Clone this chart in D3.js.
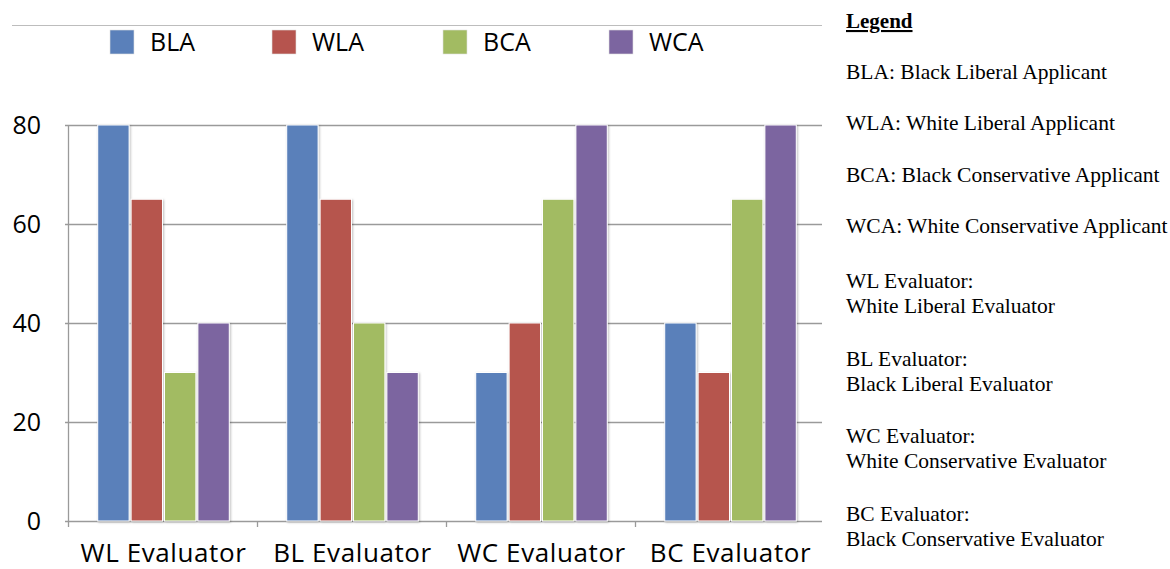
<!DOCTYPE html>
<html>
<head>
<meta charset="utf-8">
<script src="https://cdn.jsdelivr.net/npm/d3@7"></script>
<style>
  html, body { margin: 0; padding: 0; background: #fff; }
  svg { display: block; }
</style>
</head>
<body>
<svg id="chart" width="1170" height="569"></svg>
<script>
// Evaluator groups along the x axis
const evaluators = ["WL Evaluator", "BL Evaluator", "WC Evaluator", "BC Evaluator"];
// Applicant series
const series = ["BLA", "WLA", "BCA", "WCA"];
const seriesColors = ["#5a80ba", "#b6544e", "#a2bb62", "#7c65a0"];
// Ratings per applicant series, one value per evaluator group
const BLA = [80, 80, 30, 40];
const WLA = [65, 65, 40, 30];
const BCA = [30, 40, 65, 65];
const WCA = [40, 30, 80, 80];
const yTicks = [0, 20, 40, 60, 80];

// Explanatory key on the right
const keyLines = [
  ["BLA: Black Liberal Applicant"],
  ["WLA: White Liberal Applicant"],
  ["BCA: Black Conservative Applicant"],
  ["WCA: White Conservative Applicant"],
  ["WL Evaluator:", "White Liberal Evaluator"],
  ["BL Evaluator:", "Black Liberal Evaluator"],
  ["WC Evaluator:", "White Conservative Evaluator"],
  ["BC Evaluator:", "Black Conservative Evaluator"]
];

const values = { BLA, WLA, BCA, WCA };
const rows = evaluators.map((e, i) => ({ evaluator: e, vals: series.map(s => ({ key: s, value: values[s][i] })) }));

const svg = d3.select("#chart");
const sansFont = "'Open Sans', 'DejaVu Sans', sans-serif";
const serifFont = "'Liberation Serif', 'DejaVu Serif', serif";

const plot = { left: 69, right: 825, top: 125, bottom: 521 };

const x0 = d3.scaleBand().domain(evaluators).range([plot.left, plot.right]).paddingInner(0).paddingOuter(0);
const x1 = d3.scaleBand().domain(series).range([0, x0.bandwidth()]).paddingInner(0.06).paddingOuter(0.86);
const y = d3.scaleLinear().domain([0, 80]).range([plot.bottom, plot.top]);
const color = d3.scaleOrdinal().domain(series).range(seriesColors);

// Shadow under the bars
const defs = svg.append("defs");
const f = defs.append("filter").attr("id", "shadow").attr("x", "-20%").attr("y", "-5%").attr("width", "140%").attr("height", "110%");
f.append("feDropShadow").attr("dx", 1).attr("dy", 1).attr("stdDeviation", 1.2).attr("flood-color", "#000").attr("flood-opacity", 0.25);

// Thin rule across the top
svg.append("line")
  .attr("x1", 12).attr("x2", 822).attr("y1", 25.5).attr("y2", 25.5)
  .attr("stroke", "#bdbdbd").attr("stroke-width", 1);

// Horizontal grid lines
svg.append("g")
  .selectAll("line")
  .data(yTicks)
  .join("line")
  .attr("x1", plot.left - 4).attr("x2", 822)
  .attr("y1", d => Math.round(y(d)) + 0.5).attr("y2", d => Math.round(y(d)) + 0.5)
  .attr("stroke", "#9a9a9a").attr("stroke-width", 1.3);

// Y axis line
svg.append("line")
  .attr("x1", plot.left - 0.5).attr("x2", plot.left - 0.5)
  .attr("y1", y(80)).attr("y2", y(0))
  .attr("stroke", "#9a9a9a").attr("stroke-width", 1.3);

// Category tick marks below the baseline
svg.append("g")
  .selectAll("line")
  .data(evaluators.map(e => x0(e)))
  .join("line")
  .attr("x1", d => d - 0.5).attr("x2", d => d - 0.5)
  .attr("y1", y(0)).attr("y2", y(0) + 6)
  .attr("stroke", "#9a9a9a").attr("stroke-width", 1.3);

// Y tick labels
svg.append("g")
  .selectAll("text")
  .data(yTicks)
  .join("text")
  .attr("x", 41).attr("y", d => y(d))
  .attr("dy", "0.35em")
  .attr("text-anchor", "end")
  .attr("font-family", sansFont).attr("font-size", 25)
  .attr("fill", "#000")
  .text(d => d);

// Bars
svg.append("g")
  .selectAll("g")
  .data(rows)
  .join("g")
  .attr("transform", d => `translate(${x0(d.evaluator)},0)`)
  .selectAll("rect")
  .data(d => d.vals)
  .join("rect")
  .attr("x", d => x1(d.key))
  .attr("y", d => y(d.value))
  .attr("width", x1.bandwidth())
  .attr("height", d => y(0) - y(d.value))
  .attr("fill", d => color(d.key))
  .attr("stroke", "#ffffff").attr("stroke-width", 1)
  .attr("filter", "url(#shadow)");

// X category labels
svg.append("g")
  .selectAll("text")
  .data(evaluators)
  .join("text")
  .attr("x", d => x0(d) + x0.bandwidth() / 2)
  .attr("y", 562)
  .attr("text-anchor", "middle")
  .attr("font-family", sansFont).attr("font-size", 26)
  .attr("letter-spacing", 0.6)
  .attr("fill", "#000")
  .text(d => d);

// Series legend along the top
const legendX = [110, 272, 443, 609];
const lg = svg.append("g")
  .selectAll("g")
  .data(series)
  .join("g")
  .attr("transform", (d, i) => `translate(${legendX[i]},30)`);
lg.append("rect")
  .attr("width", 24).attr("height", 24)
  .attr("fill", d => color(d))
  .attr("stroke", "#e0e0e0").attr("stroke-width", 0.6);
lg.append("text")
  .attr("x", 40).attr("y", 12).attr("dy", "0.36em")
  .attr("font-family", sansFont).attr("font-size", 25)
  .attr("fill", "#000")
  .text(d => d);

// Key on the right
const key = svg.append("g").attr("font-family", serifFont).attr("font-size", 21.5).attr("fill", "#000");
key.append("text")
  .attr("x", 846).attr("y", 28)
  .attr("font-weight", "bold").attr("text-decoration", "underline")
  .attr("font-size", 21)
  .text("Legend");
const keyY = [79, 130, 182, 233, 288, 366, 443, 521];
keyLines.forEach((lines, i) => {
  lines.forEach((t, j) => {
    key.append("text")
      .attr("x", 846).attr("y", keyY[i] + j * 25)
      .text(t);
  });
});
</script>
</body>
</html>
